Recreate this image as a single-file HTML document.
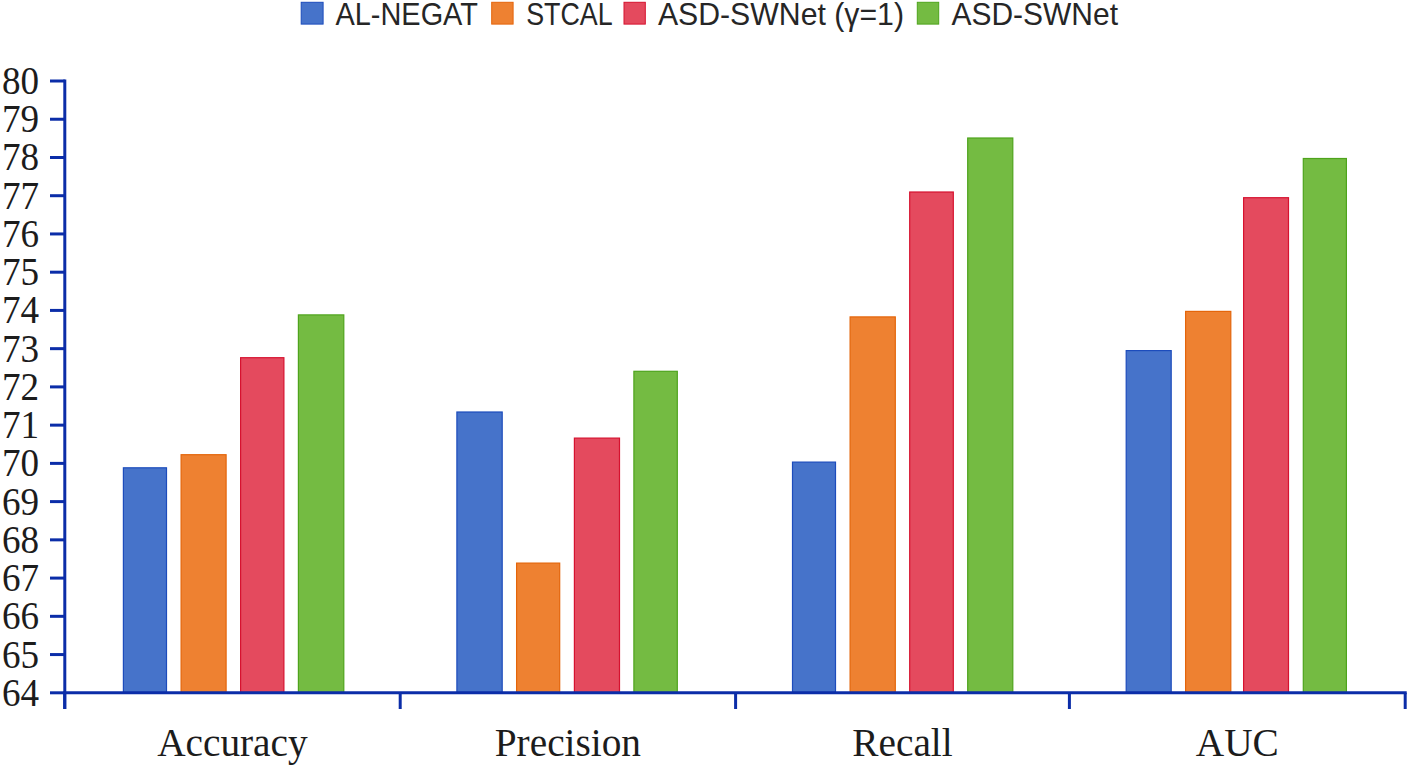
<!DOCTYPE html>
<html><head><meta charset="utf-8"><style>
html,body{margin:0;padding:0;background:#fff;}
body{width:1408px;height:766px;overflow:hidden;}
svg{display:block;}
</style></head><body>
<svg width="1408" height="766" viewBox="0 0 1408 766">
<rect width="1408" height="766" fill="#fff"/>

<rect x="123.4" y="467.8" width="43.1" height="225.0" fill="#4673ca" stroke="#1c4cbc" stroke-width="1.2"/>
<rect x="181.1" y="454.7" width="45.0" height="238.1" fill="#ee8131" stroke="#e4650a" stroke-width="1.2"/>
<rect x="240.6" y="357.7" width="43.3" height="335.1" fill="#e44a5e" stroke="#d6122f" stroke-width="1.2"/>
<rect x="298.4" y="314.9" width="45.4" height="377.9" fill="#74bb42" stroke="#4ea41c" stroke-width="1.2"/>
<rect x="456.9" y="412.0" width="45.3" height="280.8" fill="#4673ca" stroke="#1c4cbc" stroke-width="1.2"/>
<rect x="516.6" y="563.1" width="43.1" height="129.7" fill="#ee8131" stroke="#e4650a" stroke-width="1.2"/>
<rect x="574.4" y="438.1" width="45.1" height="254.7" fill="#e44a5e" stroke="#d6122f" stroke-width="1.2"/>
<rect x="633.9" y="371.3" width="43.4" height="321.5" fill="#74bb42" stroke="#4ea41c" stroke-width="1.2"/>
<rect x="792.5" y="462.1" width="43.0" height="230.7" fill="#4673ca" stroke="#1c4cbc" stroke-width="1.2"/>
<rect x="850.1" y="316.9" width="45.2" height="375.9" fill="#ee8131" stroke="#e4650a" stroke-width="1.2"/>
<rect x="909.7" y="192.0" width="43.6" height="500.8" fill="#e44a5e" stroke="#d6122f" stroke-width="1.2"/>
<rect x="967.7" y="138.0" width="45.1" height="554.8" fill="#74bb42" stroke="#4ea41c" stroke-width="1.2"/>
<rect x="1126.2" y="350.6" width="45.0" height="342.2" fill="#4673ca" stroke="#1c4cbc" stroke-width="1.2"/>
<rect x="1185.6" y="311.4" width="45.2" height="381.4" fill="#ee8131" stroke="#e4650a" stroke-width="1.2"/>
<rect x="1243.6" y="197.7" width="44.9" height="495.1" fill="#e44a5e" stroke="#d6122f" stroke-width="1.2"/>
<rect x="1303.3" y="158.5" width="43.1" height="534.3" fill="#74bb42" stroke="#4ea41c" stroke-width="1.2"/>
<g stroke="#0b2da8" stroke-width="3" fill="none" stroke-linecap="butt">
<line x1="64.8" y1="79.5" x2="64.8" y2="709"/>
<line x1="63.3" y1="692.8" x2="1406.7" y2="692.8"/>
<line x1="50" y1="692.80" x2="64.8" y2="692.80"/>
<line x1="50" y1="654.56" x2="64.8" y2="654.56"/>
<line x1="50" y1="616.32" x2="64.8" y2="616.32"/>
<line x1="50" y1="578.09" x2="64.8" y2="578.09"/>
<line x1="50" y1="539.85" x2="64.8" y2="539.85"/>
<line x1="50" y1="501.61" x2="64.8" y2="501.61"/>
<line x1="50" y1="463.38" x2="64.8" y2="463.38"/>
<line x1="50" y1="425.14" x2="64.8" y2="425.14"/>
<line x1="50" y1="386.90" x2="64.8" y2="386.90"/>
<line x1="50" y1="348.66" x2="64.8" y2="348.66"/>
<line x1="50" y1="310.42" x2="64.8" y2="310.42"/>
<line x1="50" y1="272.19" x2="64.8" y2="272.19"/>
<line x1="50" y1="233.95" x2="64.8" y2="233.95"/>
<line x1="50" y1="195.71" x2="64.8" y2="195.71"/>
<line x1="50" y1="157.48" x2="64.8" y2="157.48"/>
<line x1="50" y1="119.24" x2="64.8" y2="119.24"/>
<line x1="50" y1="81.00" x2="64.8" y2="81.00"/>
<line x1="64.7" y1="692.8" x2="64.7" y2="709"/>
<line x1="400.2" y1="692.8" x2="400.2" y2="709"/>
<line x1="735.6" y1="692.8" x2="735.6" y2="709"/>
<line x1="1069.4" y1="692.8" x2="1069.4" y2="709"/>
<line x1="1405.2" y1="692.8" x2="1405.2" y2="709"/>
</g>
<g font-family="Liberation Serif" font-size="39.5" fill="#1c1c1c" text-anchor="end">
<text transform="translate(39 705.80) scale(0.94 1)">64</text>
<text transform="translate(39 667.56) scale(0.94 1)">65</text>
<text transform="translate(39 629.32) scale(0.94 1)">66</text>
<text transform="translate(39 591.09) scale(0.94 1)">67</text>
<text transform="translate(39 552.85) scale(0.94 1)">68</text>
<text transform="translate(39 514.61) scale(0.94 1)">69</text>
<text transform="translate(39 476.38) scale(0.94 1)">70</text>
<text transform="translate(39 438.14) scale(0.94 1)">71</text>
<text transform="translate(39 399.90) scale(0.94 1)">72</text>
<text transform="translate(39 361.66) scale(0.94 1)">73</text>
<text transform="translate(39 323.42) scale(0.94 1)">74</text>
<text transform="translate(39 285.19) scale(0.94 1)">75</text>
<text transform="translate(39 246.95) scale(0.94 1)">76</text>
<text transform="translate(39 208.71) scale(0.94 1)">77</text>
<text transform="translate(39 170.48) scale(0.94 1)">78</text>
<text transform="translate(39 132.24) scale(0.94 1)">79</text>
<text transform="translate(39 94.00) scale(0.94 1)">80</text>
</g>
<g font-family="Liberation Serif" font-size="39.3" fill="#1c1c1c" text-anchor="middle">
<text x="232.4" y="756">Accuracy</text>
<text x="567.9" y="756">Precision</text>
<text x="902.5" y="756">Recall</text>
<text x="1237.3" y="756">AUC</text>
</g>
<rect x="301.2" y="2.3" width="21.9" height="21.8" fill="#4673ca" stroke="#1c4cbc" stroke-width="1"/>
<rect x="491.7" y="2.3" width="21.4" height="21.8" fill="#ee8131" stroke="#e4650a" stroke-width="1"/>
<rect x="624.0" y="2.3" width="21.3" height="21.8" fill="#e44a5e" stroke="#d6122f" stroke-width="1"/>
<rect x="917.3" y="2.3" width="21.4" height="21.8" fill="#74bb42" stroke="#4ea41c" stroke-width="1"/>
<g font-family="Liberation Sans" font-size="31.6" fill="#262626">
<text x="335.5" y="25" textLength="142.4" lengthAdjust="spacingAndGlyphs">AL-NEGAT</text>
<text x="526.2" y="25" textLength="86.5" lengthAdjust="spacingAndGlyphs">STCAL</text>
<text x="657.9" y="25" textLength="246.1" lengthAdjust="spacingAndGlyphs">ASD-SWNet (γ=1)</text>
<text x="951.5" y="25" textLength="166.5" lengthAdjust="spacingAndGlyphs">ASD-SWNet</text>
</g>
</svg></body></html>
